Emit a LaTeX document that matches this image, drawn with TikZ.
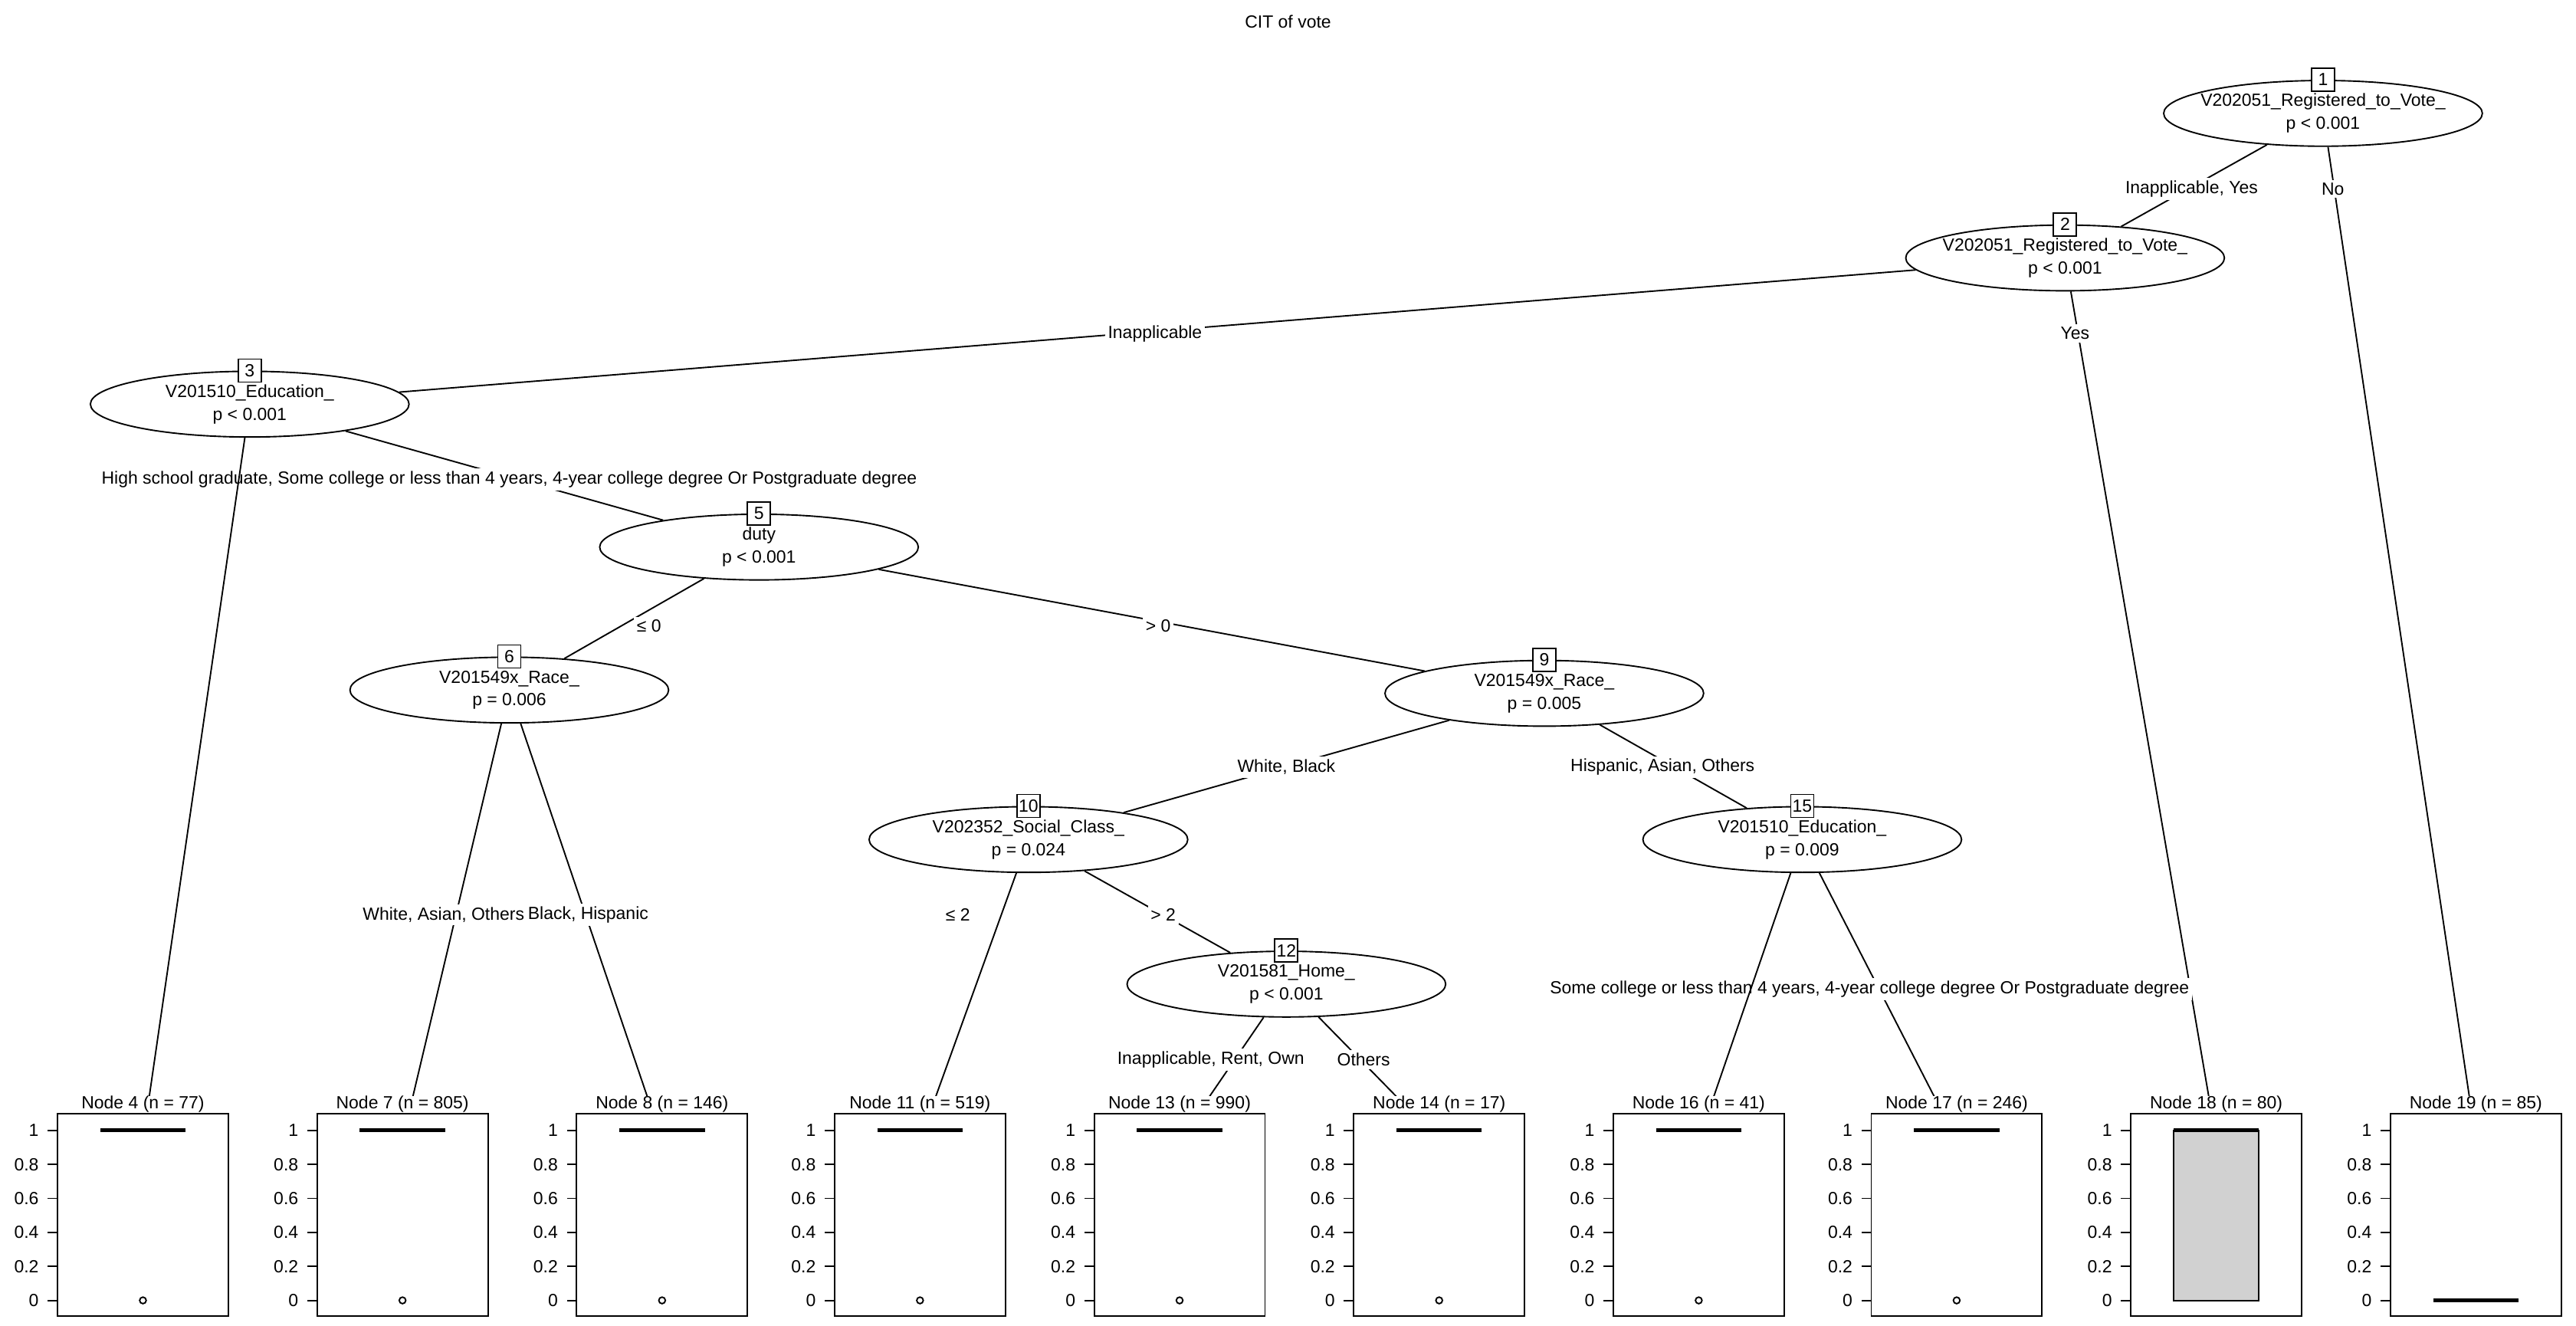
\documentclass[tikz,border=0pt]{standalone}
\usepackage{fontspec}
\setmainfont{Liberation Sans}
\usetikzlibrary{shapes.geometric}
\begin{document}
\begin{tikzpicture}[x=0.02cm,y=-0.02cm,line width=0.5pt,
  every node/.style={font=\fontsize{6.1}{7.9}\selectfont},
  ell/.style={ellipse,draw,fill=white,minimum width=3.88cm,minimum height=0.8cm,inner sep=0pt},
  etext/.style={align=center,inner sep=0pt},
  idbox/.style={draw,fill=white,minimum size=0.28cm,inner sep=0pt},
  elab/.style={fill=white,inner sep=1pt},
  panel/.style={fill=white,draw=none},
  med/.style={line width=1.3pt}]
\useasboundingbox (0,0) rectangle (1568,807);
\node (title) at (784,13) {CIT of vote};
% inner nodes
\newcommand\innernode[5]{%
  \node[ell] (e#1) at (#2,#3) {};
  \node[etext] (tx#1) at (e#1) {#4\\#5};
  \node[idbox] (id#1) at (e#1.north) {#1};}
\innernode{1}{1414}{69}{V202051\_Registered\_to\_Vote\_}{p < 0.001}
\innernode{2}{1257}{157}{V202051\_Registered\_to\_Vote\_}{p < 0.001}
\innernode{3}{152}{246}{V201510\_Education\_}{p < 0.001}
\innernode{5}{462}{333}{duty}{p < 0.001}
\innernode{6}{310}{420}{V201549x\_Race\_}{p = 0.006}
\innernode{9}{940}{422}{V201549x\_Race\_}{p = 0.005}
\innernode{10}{626}{511}{V202352\_Social\_Class\_}{p = 0.024}
\innernode{12}{783}{599}{V201581\_Home\_}{p < 0.001}
\innernode{15}{1097}{511}{V201510\_Education\_}{p = 0.009}
% terminal anchors
\foreach \n/\x in {4/87,7/245,8/403,11/560,13/718,14/876,16/1034,17/1191,18/1349,19/1507}
  \coordinate (t\n) at (\x,694);
% edges
\draw (e1) -- (e2);
\draw (e1) -- (t19);
\draw (e2) -- (e3);
\draw (e2) -- (t18);
\draw (e3) -- (e5);
\draw (e5) -- (e6);
\draw (e5) -- (e9);
\draw (e6) -- (t7);
\draw (e6) -- (t8);
\draw (e9) -- (e10);
\draw (e9) -- (e15);
\draw (e10) -- (t11);
\draw (e10) -- (e12);
\draw (e12) -- (t13);
\draw (e12) -- (t14);
\draw (e15) -- (t17);
% labels
\node[elab] (l12) at (1334,115) {Inapplicable, Yes};
\node[elab] (l119) at (1420,115) {No};
\node[elab] (l23) at (703,203) {Inapplicable};
\node[elab] (l218) at (1263,203) {Yes};
\node[elab] (l35) at (310,292) {High school graduate, Some college or less than 4 years, 4-year college degree Or Postgraduate degree};
\node[elab] (l56) at (395,381) {≤ 0};
\node[elab] (l59) at (705,381) {> 0};
\node[elab] (l67) at (270,557) {White, Asian, Others};
\node[elab] (l68) at (358,557) {Black, Hispanic};
\node[elab] (l910) at (783,467) {White, Black};
\node[elab] (l915) at (1012,467) {Hispanic, Asian, Others};
\node[elab] (l1011) at (583,557) {≤ 2};
\node[elab] (l1012) at (708,557) {> 2};
\node[elab] (l1213) at (737,645) {Inapplicable, Rent, Own};
\node[elab] (l1214) at (830,645) {Others};
\node[elab] (l1516) at (1138,602) {Some college or less than 4 years, 4-year college degree Or Postgraduate degree};
% edges drawn over labels
\draw (e3) -- (t4);
\draw (e15) -- (t16);
% terminal panels
\foreach \n/\x/\c in {4/87/77,7/245/805,8/403/146,11/560/519,13/718/990,14/876/17,16/1034/41,17/1191/246,18/1349/80,19/1507/85}{
  \fill[panel] (\x-76,667) rectangle (\x+54,807);
  \node[inner sep=0pt] (h\n) at (\x,672) {Node \n{} (n = \c)};
  \draw (\x-52,678) rectangle (\x+52,801);
  \foreach \v/\t in {0/0,0.2/0.2,0.4/0.4,0.6/0.6,0.8/0.8,1/1}{
    \draw (\x-52,{688+(1-\v)*103.5}) -- (\x-58,{688+(1-\v)*103.5});
    \node[anchor=east,inner sep=0pt] at (\x-63,{688+(1-\v)*103.5}) {\t};
  }
}
% boxplot content
\foreach \x in {87,245,403,560,718,876,1034,1191}{
  \draw[med] (\x-26,688) -- (\x+26,688);
  \draw (\x,791.5) circle[radius=2];
}
\draw[fill=black!18] (1349-26,688) rectangle (1349+26,791.5);
\draw[med] (1349-26,688) -- (1349+26,688);
\draw[med] (1507-26,791.5) -- (1507+26,791.5);
\end{tikzpicture}
\end{document}
